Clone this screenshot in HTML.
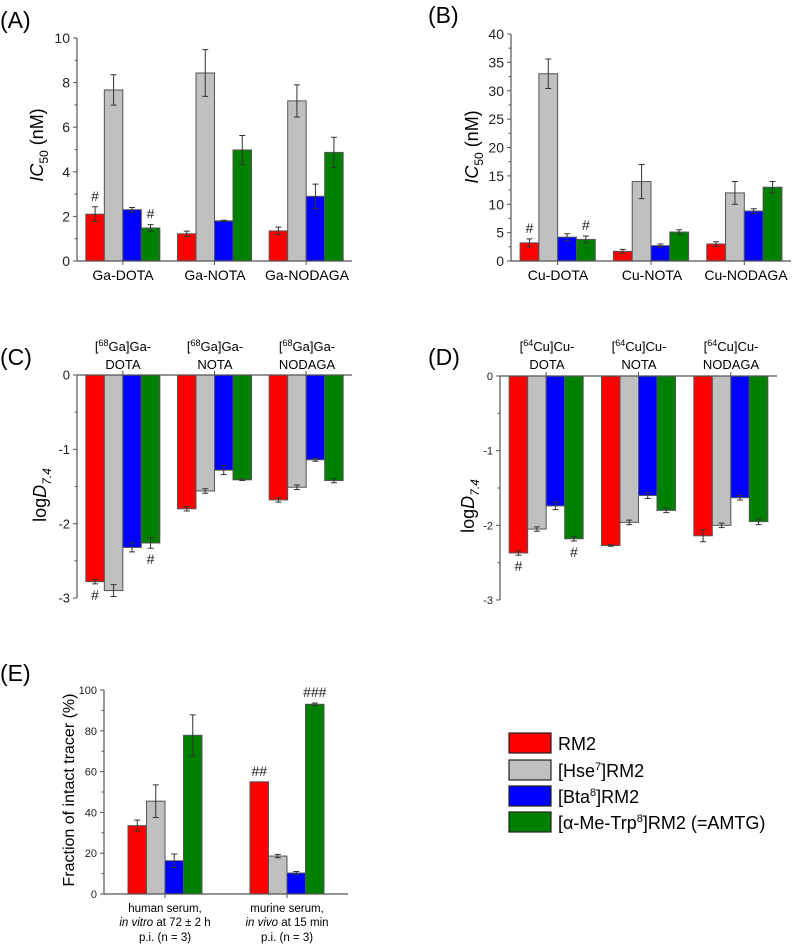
<!DOCTYPE html>
<html><head><meta charset="utf-8"><style>
body{margin:0;background:#fff}
svg{display:block;font-family:"Liberation Sans",Arial,sans-serif}
</style></head><body>
<svg id="fig" width="797" height="946" viewBox="0 0 797 946">
<g font-size="23">
<text x="0" y="28">(A)</text>
<text x="428" y="23">(B)</text>
<text x="0" y="365">(C)</text>
<text x="428" y="365">(D)</text>
<text x="0" y="681">(E)</text>
</g>
<g>
<text transform="translate(43,145) rotate(-90)" text-anchor="middle" font-size="18"><tspan font-style="italic">IC</tspan><tspan font-size="12" dy="5">50</tspan><tspan dy="-5"> (nM)</tspan></text>
<text transform="translate(478,147) rotate(-90)" text-anchor="middle" font-size="18"><tspan font-style="italic">IC</tspan><tspan font-size="12" dy="5">50</tspan><tspan dy="-5"> (nM)</tspan></text>
<text transform="translate(46,495) rotate(-90)" text-anchor="middle" font-size="18">log<tspan font-style="italic">D</tspan><tspan font-size="12" dy="5" font-style="italic">7.4</tspan></text>
<text transform="translate(474,506) rotate(-90)" text-anchor="middle" font-size="18">log<tspan font-style="italic">D</tspan><tspan font-size="12" dy="5" font-style="italic">7.4</tspan></text>
<text transform="translate(74,790) rotate(-90)" text-anchor="middle" font-size="16">Fraction of intact tracer (%)</text>
</g>
<g text-anchor="middle">
<text x="123" y="280" font-size="14">Ga-DOTA</text>
<text x="215" y="280" font-size="14">Ga-NOTA</text>
<text x="307" y="280" font-size="14">Ga-NODAGA</text>
<text x="558" y="280" font-size="14">Cu-DOTA</text>
<text x="652" y="280" font-size="14">Cu-NOTA</text>
<text x="746" y="280" font-size="14">Cu-NODAGA</text>
<g font-size="13">
<text x="123" y="351">[<tspan font-size="9" dy="-5">68</tspan><tspan dy="5">Ga]Ga-</tspan></text><text x="123" y="369">DOTA</text>
<text x="215" y="351">[<tspan font-size="9" dy="-5">68</tspan><tspan dy="5">Ga]Ga-</tspan></text><text x="215" y="369">NOTA</text>
<text x="307" y="351">[<tspan font-size="9" dy="-5">68</tspan><tspan dy="5">Ga]Ga-</tspan></text><text x="307" y="369">NODAGA</text>
<text x="547" y="351">[<tspan font-size="9" dy="-5">64</tspan><tspan dy="5">Cu]Cu-</tspan></text><text x="547" y="369">DOTA</text>
<text x="639" y="351">[<tspan font-size="9" dy="-5">64</tspan><tspan dy="5">Cu]Cu-</tspan></text><text x="639" y="369">NOTA</text>
<text x="731" y="351">[<tspan font-size="9" dy="-5">64</tspan><tspan dy="5">Cu]Cu-</tspan></text><text x="731" y="369">NODAGA</text>
</g>
<g font-size="11.5">
<text x="165" y="912">human serum,</text>
<text x="165" y="926"><tspan font-style="italic">in vitro</tspan> at 72 ± 2 h</text>
<text x="165" y="941">p.i. (n = 3)</text>
<text x="287" y="912">murine serum,</text>
<text x="287" y="926"><tspan font-style="italic">in vivo</tspan> at 15 min</text>
<text x="287" y="941">p.i. (n = 3)</text>
</g>
</g>
<g font-size="18">
<rect x="509" y="733" width="42" height="20" fill="#ff0000" stroke="#222" stroke-width="1.2"/>
<text x="558" y="750">RM2</text>
<rect x="509" y="760" width="42" height="20" fill="#c0c0c0" stroke="#222" stroke-width="1.2"/>
<text x="558" y="777">[Hse<tspan font-size="11" dy="-7">7</tspan><tspan dy="7">]RM2</tspan></text>
<rect x="509" y="786" width="42" height="20" fill="#0000ff" stroke="#222" stroke-width="1.2"/>
<text x="558" y="803">[Bta<tspan font-size="11" dy="-7">8</tspan><tspan dy="7">]RM2</tspan></text>
<rect x="509" y="812" width="42" height="20" fill="#008000" stroke="#222" stroke-width="1.2"/>
<text x="558" y="829">[α-Me-Trp<tspan font-size="11" dy="-7">8</tspan><tspan dy="7">]RM2 (=AMTG)</tspan></text>
</g>
</svg>
<script>
// Panel A (Ga IC50)
const aRed=[2.1,1.22,1.35], aRedErr=[0.33,0.12,0.17];
const aGray=[7.67,8.43,7.18], aGrayErr=[0.68,1.05,0.72];
const aBlue=[2.3,1.8,2.9], aBlueErr=[0.1,0.03,0.55];
const aGreen=[1.48,4.98,4.87], aGreenErr=[0.15,0.65,0.68];
const aTicks=[0,2,4,6,8,10];
// Panel B (Cu IC50)
const bRed=[3.2,1.7,3.0], bRedErr=[0.7,0.35,0.4];
const bGray=[33,14,12], bGrayErr=[2.6,3,2];
const bBlue=[4.2,2.7,8.8], bBlueErr=[0.6,0.3,0.4];
const bGreen=[3.8,5.1,13], bGreenErr=[0.6,0.4,1];
const bTicks=[0,5,10,15,20,25,30,35,40];
// Panel C (Ga logD)
const cRed=[-2.78,-1.80,-1.68], cRedErr=[0.03,0.03,0.03];
const cGray=[-2.90,-1.56,-1.51], cGrayErr=[0.08,0.03,0.03];
const cBlue=[-2.32,-1.28,-1.14], cBlueErr=[0.06,0.06,0.02];
const cGreen=[-2.26,-1.41,-1.42], cGreenErr=[0.07,0.01,0.03];
const cTicks=[0,-1,-2,-3];
// Panel D (Cu logD)
const dRed=[-2.37,-2.27,-2.14], dRedErr=[0.03,0.01,0.08];
const dGray=[-2.05,-1.96,-2.00], dGrayErr=[0.03,0.03,0.03];
const dBlue=[-1.74,-1.60,-1.63], dBlueErr=[0.05,0.04,0.03];
const dGreen=[-2.18,-1.80,-1.95], dGreenErr=[0.03,0.03,0.04];
const dTicks=[0,-1,-2,-3];
// Panel E (stability)
const eRed=[33.5,55], eRedErr=[2.7,0];
const eGray=[45.5,18.6], eGrayErr=[8,0.8];
const eBlue=[16.3,10.3], eBlueErr=[3.3,0.7];
const eGreen=[77.8,93], eGreenErr=[10,0.6];
const eTicks=[0,20,40,60,80,100];

const NS='http://www.w3.org/2000/svg';
const svg=document.getElementById('fig');
const colors=['#ff0000','#c0c0c0','#0000ff','#008000'];
const sNames=['rm2','hse','bta','amtg'];
function mk(tag,attrs,parent){const e=document.createElementNS(NS,tag);for(const k in attrs)e.setAttribute(k,attrs[k]);(parent||svg).appendChild(e);return e;}

function panel(id,cfg,series,errs,ticks,marks){
  const g=mk('g',{});
  
  
  const n=series[0].length;
  const sp=(cfg.x1-cfg.x0)/n;
  const X=i=>cfg.x0+sp*(i+0.5);
  const Y=v=>cfg.yb+(v-cfg.vmin)/(cfg.vmax-cfg.vmin)*(cfg.yt-cfg.yb);
  const y0=Y(0);
  // bars
  for(let s=0;s<series.length;s++){
    for(let i=0;i<n;i++){
      const v=series[s][i], e=errs[s][i];
      const bx=X(i)+(s-2)*cfg.bw;
      const yv=Y(v);
      const r=mk('rect',{x:bx,y:Math.min(yv,y0),width:cfg.bw,height:Math.abs(yv-y0),fill:colors[s],stroke:'#555','stroke-width':1},g);
      
      
      if(e>0){
        const cx=bx+cfg.bw/2, ya=Y(v+e), yb=Y(v-e);
        const eb=mk('path',{d:`M${cx},${ya}V${yb}M${cx-3},${ya}H${cx+3}M${cx-3},${yb}H${cx+3}`,stroke:'#333','stroke-width':1,fill:'none'},g);
        
        
      }
    }
  }
  // axes
  const ax=mk('path',{d:`M${cfg.x0},${Y(cfg.vmin)}V${Y(cfg.vmax)}M${cfg.x0},${y0}H${cfg.x1}`,stroke:'#555','stroke-width':1.2,fill:'none'},g);
  
  
  const step=ticks[1]-ticks[0];
  for(let t=0;t<ticks.length;t++){
    const yy=Y(ticks[t]);
    mk('line',{x1:cfg.x0-4,x2:cfg.x0,y1:yy,y2:yy,stroke:'#555'},g);
    if(t<ticks.length-1){const ym=Y(ticks[t]+step/2);mk('line',{x1:cfg.x0-2.5,x2:cfg.x0,y1:ym,y2:ym,stroke:'#555'},g);}
    const tl=mk('text',{x:cfg.x0-7,y:yy+cfg.fs*0.36,'text-anchor':'end','font-size':cfg.fs,fill:'#222'},g);
    tl.textContent=ticks[t];
    
    
  }
  for(let i=0;i<n;i++){
    const dir=cfg.top?-4:4;
    mk('line',{x1:X(i),x2:X(i),y1:y0,y2:y0+dir,stroke:'#555'},g);
  }
  // significance marks
  for(const m of marks){
    const bx=X(m[1])+(m[0]-2)*cfg.bw+cfg.bw/2;
    const v=series[m[0]][m[1]], e=errs[m[0]][m[1]];
    const yy=m[3]?Y(v-e)+16:Y(v+e)-6;
    const t=mk('text',{x:bx,y:yy,'text-anchor':'middle','font-size':14,fill:'#222'},g);
    t.textContent=m[2];
    
    
  }
}
panel('a',{x0:77,x1:352,yb:261,yt:38,vmin:0,vmax:10,bw:18.5,fs:14},[aRed,aGray,aBlue,aGreen],[aRedErr,aGrayErr,aBlueErr,aGreenErr],aTicks,[[0,0,'#',0],[3,0,'#',0]]);
panel('b',{x0:511,x1:791,yb:261,yt:34,vmin:0,vmax:40,bw:18.8,fs:14},[bRed,bGray,bBlue,bGreen],[bRedErr,bGrayErr,bBlueErr,bGreenErr],bTicks,[[0,0,'#',0],[3,0,'#',0]]);
panel('c',{x0:77,x1:352,yb:598,yt:375,vmin:-3,vmax:0,bw:18.5,fs:13,top:1},[cRed,cGray,cBlue,cGreen],[cRedErr,cGrayErr,cBlueErr,cGreenErr],cTicks,[[0,0,'#',1],[3,0,'#',1]]);
panel('d',{x0:500,x1:777,yb:600,yt:376,vmin:-3,vmax:0,bw:18.5,fs:11,top:1},[dRed,dGray,dBlue,dGreen],[dRedErr,dGrayErr,dBlueErr,dGreenErr],dTicks,[[0,0,'#',1],[3,0,'#',1]]);
panel('e',{x0:104,x1:348,yb:894,yt:690,vmin:0,vmax:100,bw:18.5,fs:11},[eRed,eGray,eBlue,eGreen],[eRedErr,eGrayErr,eBlueErr,eGreenErr],eTicks,[[0,1,'##',0],[3,1,'###',0]]);
</script>
</body></html>
